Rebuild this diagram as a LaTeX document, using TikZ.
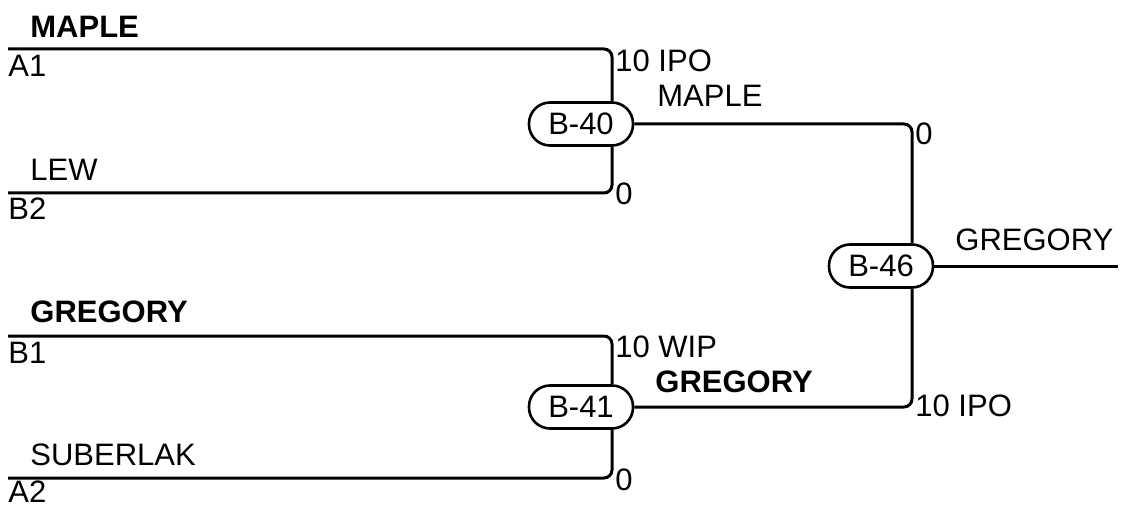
\documentclass[tikz,border=0pt]{standalone}
\usepackage{fontspec}
\setmainfont{Liberation Sans}
\usetikzlibrary{calc}

\begin{document}
\begin{tikzpicture}[x=0.5pt,y=-0.5pt,
    game/.style={draw,line width=1.3pt,rounded corners=10.5pt,minimum width=52pt,minimum height=21.5pt,inner sep=0pt,font=\fontsize{15.5}{18}\selectfont},
    lab/.style={anchor=base west,inner sep=0pt,font=\fontsize{15.5}{18}\selectfont},
    blab/.style={lab,font=\fontsize{15.5}{18}\selectfont\bfseries},
    wire/.style={line width=1.5pt,rounded corners=4pt}]
\useasboundingbox (0,0) rectangle (1131,508);
% games
\node[game] (B40) at (581,124) {B-40};
\node[game] (B41) at (581,407) {B-41};
\node[game] (B46) at (881,266) {B-46};
% team slots
\coordinate (a1) at (8,49);
\coordinate (b2) at (8,193);
\coordinate (b1) at (8,336);
\coordinate (a2) at (8,478);
\coordinate (champ) at (1118,266);
\draw[wire] (a1) -| ([xshift=15.5pt]B40.north);
\draw[wire] (b2) -| ([xshift=15.5pt]B40.south);
\draw[wire] (b1) -| ([xshift=15.5pt]B41.north);
\draw[wire] (a2) -| ([xshift=15.5pt]B41.south);
\draw[wire] (B40.east) -| ([xshift=15.5pt]B46.north);
\draw[wire] (B41.east) -| ([xshift=15.5pt]B46.south);
\draw[wire] (B46.east) -- (champ);
% labels
\node[blab] (n1) at (30,38) {MAPLE};
\node[lab] (s1) at (8,77) {A1};
\node[lab] (r1) at (615,72) {10 IPO};
\node[lab] (w40) at (657,107) {MAPLE};
\node[lab] (n2) at (30,181) {LEW};
\node[lab] (s2) at (8,220) {B2};
\node[lab] (r2) at (615,205) {0};
\node[lab] (r40) at (915,145) {0};
\node[lab] (w46) at (955,250) {GREGORY};
\node[blab] (n3) at (30,322) {GREGORY};
\node[lab] (s3) at (8,363) {B1};
\node[lab] (r3) at (615,357) {10 WIP};
\node[blab] (w41) at (655,392) {GREGORY};
\node[lab] (r41) at (915,416) {10 IPO};
\node[lab] (n4) at (30,465) {SUBERLAK};
\node[lab] (r4) at (615,490) {0};
\node[lab] (s4) at (8,502) {A2};
\end{tikzpicture}
\end{document}
